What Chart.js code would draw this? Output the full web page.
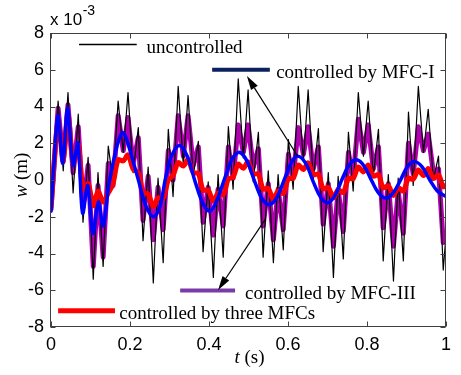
<!DOCTYPE html>
<html><head><meta charset="utf-8">
<script src="https://cdn.jsdelivr.net/npm/chart.js@4.4.1/dist/chart.umd.min.js"></script>
<style>html,body{margin:0;padding:0;background:#fff;overflow:hidden}canvas{display:block}</style>
</head><body>
<canvas id="c" width="461" height="375"></canvas>
<script>
// time grid (s) shared by the uncontrolled, MFC-III and three-MFC responses
const tGrid = [0,
 0.018,0.031,0.043,0.056,0.069,0.081,0.094,0.107,0.119,0.132,0.145,0.157,
 0.170,0.183,0.195,0.208,0.221,0.233,0.246,0.259,0.271,0.284,0.297,0.309,
 0.322,0.335,0.347,0.360,0.373,0.385,0.398,0.411,0.423,0.436,0.449,0.461,
 0.474,0.487,0.499,0.512,0.525,0.537,0.550,0.563,0.575,0.588,0.601,0.613,
 0.626,0.639,0.651,0.664,0.677,0.689,0.702,0.715,0.727,0.740,0.753,0.765,
 0.778,0.791,0.803,0.816,0.829,0.841,0.854,0.867,0.879,0.892,0.905,0.917,
 0.930,0.943,0.955,0.968,0.981,0.993,
 1.0];
// displacement w, in units of 1e-3 m
const wUncontrolled = [-1.6,
 4.3,0.5,4.76,-0.7,3.58,-2.3,1.23,-5.4,0.4,-4.7,1.85,-0.1,
 4.3,1.5,4.76,0.4,2.85,-3.3,0.7,-5.6,0.1,-4.5,2.76,-0.9,
 5.1,0.8,4.6,0.2,2.1,-3.9,-0.1,-5.3,0.3,-4.2,2.9,-0.5,
 5.5,1.2,4.9,-0.1,2.6,-4.2,0.5,-4.5,0.3,-3.8,2.2,-0.5,
 5.1,1.0,4.9,0.0,2.8,-3.9,0.4,-5.3,0.2,-4.3,2.6,-0.6,
 4.76,1.3,4.3,0.2,2.76,-4.4,0.3,-5.5,0.1,-4.4,3.7,-0.3,
 5.1,1.5,3.85,0.0,1.3,-4.9,
 -3.0];
const wMFC3 = [-1.6,
 3.9,1.0,4.1,0.4,2.9,-1.5,0.8,-4.7,-0.3,-4.2,0.9,-0.3,
 3.5,1.6,3.4,0.9,2.3,-2.2,0.2,-3.25,-0.4,-2.7,1.6,0.0,
 3.5,1.3,3.5,0.8,1.8,-2.3,-0.4,-3.0,-0.5,-2.5,1.8,0.1,
 3.0,1.5,3.0,0.7,1.7,-2.5,-0.2,-3.25,-0.5,-2.7,1.4,0.1,
 2.85,1.4,2.9,0.6,1.8,-2.4,-0.2,-3.6,-0.5,-2.8,1.5,0.1,
 3.3,1.5,3.0,0.6,1.8,-2.6,-0.2,-3.6,-0.6,-2.9,2.0,0.3,
 2.9,1.6,2.5,0.4,0.6,-3.4,
 -3.0];
const wThree = [-1.5,
 3.2,1.0,3.6,0.9,1.9,-0.5,-0.2,-1.4,-0.6,-1.2,-0.7,-0.2,
 1.1,1.04,1.37,0.59,0.4,-0.65,-0.77,-1.44,-0.97,-0.99,0.0,0.25,
 0.95,0.76,1.11,0.41,0.35,-0.55,-0.55,-1.16,-0.71,-0.81,0.05,0.15,
 0.86,0.64,0.99,0.33,0.33,-0.50,-0.46,-1.04,-0.59,-0.73,0.07,0.10,
 0.81,0.57,0.93,0.29,0.32,-0.48,-0.41,-0.97,-0.53,-0.69,0.08,0.08,
 0.71,0.44,0.81,0.21,0.30,-0.43,-0.31,-0.84,-0.41,-0.61,0.10,0.03,
 0.55,0.24,0.62,0.08,0.27,-0.36,
 -0.3];
// MFC-I response on its own time base
const tMFC1 = [0,0.008,0.018,0.03,0.042,0.056,0.068,0.08,0.093,0.106,
 0.12,0.132,0.146,0.163,0.172,0.181,0.19,0.2,0.22,0.24,
 0.259,0.275,0.29,0.305,0.325,0.345,0.365,0.385,0.403,0.42,
 0.44,0.46,0.478,0.497,0.516,0.535,0.554,0.573,0.592,0.61,
 0.625,0.645,0.664,0.683,0.702,0.72,0.738,0.756,0.774,0.793,
 0.812,0.831,0.85,0.868,0.886,0.903,0.921,0.94,0.959,0.978,1.0];
const wMFC1 = [-1.7,1.0,3.5,0.9,3.9,0.8,2.0,-1.8,-0.3,-2.9,
 -1.2,-2.5,-0.3,1.5,2.2,2.58,2.3,1.6,0.1,-1.4,
 -2.0,-1.5,0.1,1.3,1.88,1.3,-0.1,-1.3,-1.7,-1.1,
 0.1,1.2,1.5,1.0,-0.1,-1.05,-1.34,-0.9,0.1,1.0,
 1.3,0.9,-0.1,-0.95,-1.23,-0.8,0.1,0.85,1.1,0.75,
 -0.05,-0.75,-0.98,-0.65,0.05,0.75,1.0,0.7,0.0,-0.6,-0.9];
const seriesNames = ['uncontrolled','controlled by MFC-I','controlled by MFC-III','controlled by three MFCs'];
const xTicks = [0,0.2,0.4,0.6,0.8,1];
const xTickLabels = ['0','0.2','0.4','0.6','0.8','1'];
const yTicks = [-8,-6,-4,-2,0,2,4,6,8];
const yTickLabels = ['-8','-6','-4','-2','0','2','4','6','8'];

const pts = (ts, ws) => ts.map((t, i) => ({x: t, y: ws[i]}));
const SANS = '"Liberation Sans", Arial, sans-serif';
const SERIF = '"Liberation Serif", "Times New Roman", serif';

function arrow(ctx, x0, y0, x1, y1) {
  const ang = Math.atan2(y1 - y0, x1 - x0), L = 14, H = 4;
  const bx = x1 - L * Math.cos(ang), by = y1 - L * Math.sin(ang);
  ctx.beginPath(); ctx.moveTo(x0, y0); ctx.lineTo(bx, by); ctx.stroke();
  ctx.beginPath(); ctx.moveTo(x1, y1);
  ctx.lineTo(bx + H * Math.sin(ang), by - H * Math.cos(ang));
  ctx.lineTo(bx - H * Math.sin(ang), by + H * Math.cos(ang));
  ctx.closePath(); ctx.fill();
}

const overlay = {
  id: 'overlay',
  afterDraw(chart) {
    const {ctx, chartArea: a, scales: {x, y}} = chart;
    const X = v => x.getPixelForValue(v), Y = v => y.getPixelForValue(v);
    ctx.save();
    const L = Math.round(a.left) - 0.5, R = Math.round(a.right) - 0.5;
    const T = Math.round(a.top) + 0.5, B = Math.round(a.bottom) - 0.5;
    ctx.strokeStyle = '#404040'; ctx.lineWidth = 1;
    ctx.strokeRect(L, T, R - L, B - T);
    ctx.beginPath();
    xTicks.forEach(v => { const p = Math.round(X(v)) + 0.5; ctx.moveTo(p, B); ctx.lineTo(p, B - 5); ctx.moveTo(p, T); ctx.lineTo(p, T + 5); });
    yTicks.forEach(v => { const p = Math.round(Y(v)) + 0.5; ctx.moveTo(L, p); ctx.lineTo(L + 5, p); ctx.moveTo(R, p); ctx.lineTo(R - 5, p); });
    ctx.stroke();

    // legend entries placed inside the axes
    const items = [
      {c:'#000000', lw:1.5, t0:0.071, t1:0.217, w:7.37, tx:0.242},
      {c:'#0a2060', lw:4,   t0:0.408, t1:0.554, w:6.0,  tx:0.57},
      {c:'#7a3aa8', lw:4,   t0:0.327, t1:0.466, w:-6.02, tx:0.491},
      {c:'#ff0000', lw:5,   t0:0.018, t1:0.162, w:-7.11, tx:0.173}
    ];
    ctx.font = '19px ' + SERIF; ctx.textBaseline = 'alphabetic'; ctx.textAlign = 'left';
    items.forEach((it, i) => {
      ctx.strokeStyle = it.c; ctx.lineWidth = it.lw; ctx.lineCap = 'butt';
      ctx.beginPath(); ctx.moveTo(X(it.t0), Y(it.w)); ctx.lineTo(X(it.t1), Y(it.w)); ctx.stroke();
      ctx.fillStyle = '#000'; ctx.fillText(seriesNames[i], X(it.tx), Y(it.w) + 8);
    });
    ctx.strokeStyle = '#000'; ctx.fillStyle = '#000'; ctx.lineWidth = 1.2;
    arrow(ctx, X(0.625), Y(1.28), X(0.496), Y(5.66));
    arrow(ctx, X(0.542), Y(-2.16), X(0.423), Y(-5.98));

    // exponent label
    ctx.font = '17px ' + SANS; ctx.fillStyle = '#000';
    ctx.fillText('x 10', 50, 25);
    const wd = ctx.measureText('x 10').width;
    ctx.font = '14px ' + SANS; ctx.fillText('-3', 50 + wd + 0.5, 15);

    // axis titles
    ctx.font = 'italic 19px ' + SERIF;
    const tw = ctx.measureText('t').width;
    ctx.font = '19px ' + SERIF;
    const sw = ctx.measureText(' (s)').width;
    const cx = (a.left + a.right) / 2 + 1, x0 = cx - (tw + sw) / 2;
    ctx.font = 'italic 19px ' + SERIF; ctx.fillText('t', x0, 363);
    ctx.font = '19px ' + SERIF; ctx.fillText(' (s)', x0 + tw, 363);

    ctx.translate(26.5, 175); ctx.rotate(-Math.PI / 2);
    ctx.font = 'italic 19px ' + SERIF;
    const ww = ctx.measureText('w').width;
    ctx.font = '19px ' + SERIF;
    const mw = ctx.measureText(' (m)').width;
    const s0 = -(ww + mw) / 2;
    ctx.font = 'italic 19px ' + SERIF; ctx.fillText('w', s0, 0);
    ctx.font = '19px ' + SERIF; ctx.fillText(' (m)', s0 + ww, 0);
    ctx.restore();
  }
};

const common = {pointRadius: 0, fill: false, borderJoinStyle: 'round', borderCapStyle: 'round'};
new Chart(document.getElementById('c'), {
  type: 'line',
  data: {
    datasets: [
      {...common, label: seriesNames[1], data: pts(tMFC1, wMFC1), borderColor: '#0000ff', borderWidth: 3.5, tension: 0.35},
      {...common, label: seriesNames[3], data: pts(tGrid, wThree), borderColor: '#ff0000', borderWidth: 5, tension: 0.3},
      {...common, label: seriesNames[0], data: pts(tGrid, wUncontrolled), borderColor: '#000000', borderWidth: 1.2, tension: 0},
      {...common, label: seriesNames[2], data: pts(tGrid, wMFC3), borderColor: '#b000b0', borderWidth: 5, tension: 0}
    ]
  },
  options: {
    responsive: false, animation: false, devicePixelRatio: 1,
    layout: {padding: {top: 33, right: 15, left: 0, bottom: 0}},
    plugins: {legend: {display: false}, tooltip: {enabled: false}},
    scales: {
      x: {
        type: 'linear', min: 0, max: 1,
        afterBuildTicks: s => { s.ticks = xTicks.map(v => ({value: v})); },
        afterFit: s => { s.height = 48; },
        ticks: {callback: (v, i) => xTickLabels[i], color: '#000', padding: 7, maxRotation: 0, font: {family: SANS, size: 18}},
        grid: {display: false, drawTicks: false}, border: {display: false}
      },
      y: {
        type: 'linear', min: -8, max: 8,
        afterBuildTicks: s => { s.ticks = yTicks.map(v => ({value: v})); },
        afterFit: s => { s.width = 51; },
        ticks: {callback: (v, i) => yTickLabels[i], color: '#000', padding: 7, font: {family: SANS, size: 18}},
        grid: {display: false, drawTicks: false}, border: {display: false}
      }
    }
  },
  plugins: [overlay]
});
</script>
</body></html>
